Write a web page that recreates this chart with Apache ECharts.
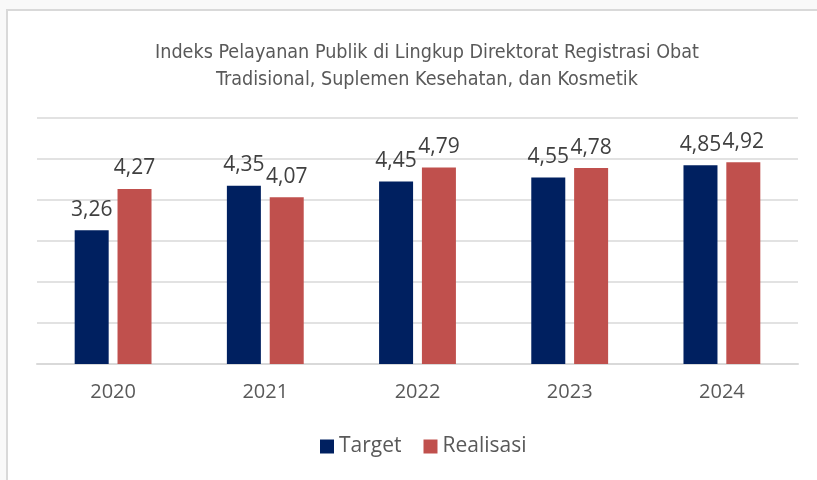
<!DOCTYPE html>
<html><head><meta charset="utf-8">
<script src="https://cdn.jsdelivr.net/npm/echarts@6/dist/echarts.min.js"></script>
<style>html,body{margin:0;padding:0;background:#f9f9f9;}#c{width:817px;height:480px;}</style>
</head><body><div id="c"></div>
<script>
const titleLines = ['Indeks Pelayanan Publik di Lingkup Direktorat Registrasi Obat', 'Tradisional, Suplemen Kesehatan, dan Kosmetik'];
const categories = ['2020', '2021', '2022', '2023', '2024'];
const seriesNames = ['Target', 'Realisasi'];
const targetValues = [3.26, 4.35, 4.45, 4.55, 4.85];
const realisasiValues = [4.27, 4.07, 4.79, 4.78, 4.92];

const chart = echarts.init(document.getElementById('c'), null, {renderer: 'canvas'});
const fmt = p => String(p.value).replace('.', ',');
const labelCfg = {show: true, position: 'top', distance: 10, formatter: fmt, color: '#404040', fontSize: 21, fontFamily: 'Open Sans'};
chart.setOption({
  backgroundColor: '#f9f9f9',
  animation: false,
  graphic: [{type: 'rect', shape: {x: 7, y: 10, width: 900, height: 600}, style: {fill: '#ffffff', stroke: '#d9d9d9', lineWidth: 2}, z: -10}],
  title: {text: titleLines.join('\n'), left: 422, textAlign: 'center', top: 34, textStyle: {color: '#595959', fontSize: 19.6, fontWeight: 'normal', fontFamily: '"DejaVu Sans Condensed", "Liberation Sans", sans-serif', lineHeight: 27}},
  legend: {data: seriesNames, bottom: 18, left: 315, itemWidth: 14, itemHeight: 14, itemGap: 22, icon: 'rect', textStyle: {color: '#595959', fontSize: 21, fontFamily: 'Open Sans'}},
  grid: {left: 37, right: 19, top: 118, bottom: 116},
  xAxis: {type: 'category', data: categories, axisLine: {lineStyle: {color: '#d9d9d9', width: 2}}, axisTick: {show: false}, axisLabel: {color: '#595959', fontSize: 20, fontFamily: 'Open Sans', margin: 18}},
  yAxis: {type: 'value', min: 0, max: 6, interval: 1, axisLabel: {show: false}, splitLine: {lineStyle: {color: '#d9d9d9', width: 1.5}}},
  series: [
    {name: seriesNames[0], type: 'bar', data: targetValues, barWidth: 34, barGap: '26%', itemStyle: {color: '#002060'}, label: labelCfg},
    {name: seriesNames[1], type: 'bar', data: realisasiValues, barWidth: 34, itemStyle: {color: '#C0504D'}, label: labelCfg}
  ]
});
</script></body></html>
